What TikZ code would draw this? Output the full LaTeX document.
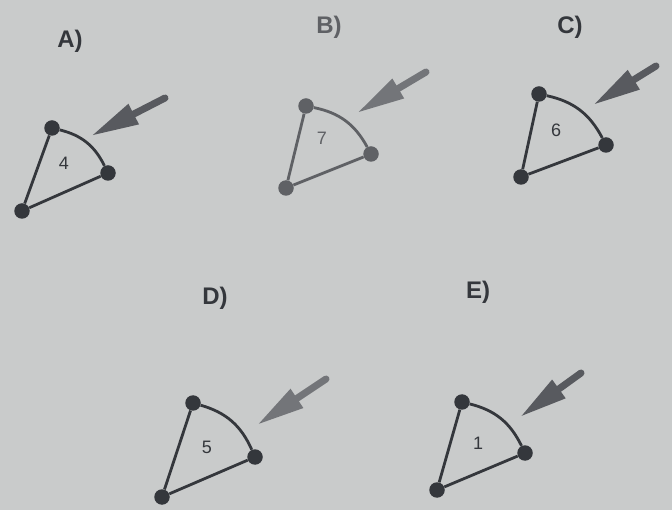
\documentclass[tikz,border=0pt]{standalone}
\usepackage{fontspec}
\setmainfont{Liberation Sans}
\usetikzlibrary{arrows.meta}
\definecolor{paper}{RGB}{201,203,203}
\definecolor{ink}{RGB}{52,55,60}
\definecolor{inklight}{RGB}{95,97,101}
\definecolor{arrowc}{RGB}{88,90,95}
\definecolor{arrowlight}{RGB}{115,117,121}
\begin{document}
\begin{tikzpicture}[x=1pt,y=-1pt,
  dot/.style={circle,fill=#1,inner sep=0pt,minimum size=15.5pt},
  dot/.default=ink,
  edge/.style={draw=#1,line width=2.8pt},
  edge/.default=ink,
  curved/.style={draw=#1,line width=2.8pt,bend left=25},
  curved/.default=ink,
  pointer/.style={draw=#1,line width=7pt,line cap=round,
    -{Triangle[length=48pt,width=21pt,fill=#1]}},
  pointer/.default=arrowc,
  letter/.style={text=#1,font=\fontsize{24}{24}\selectfont\bfseries},
  letter/.default=ink,
  num/.style={text=#1,font=\fontsize{18}{18}\selectfont},
  num/.default=ink]
\fill[paper] (0,0) rectangle (672,510);
\useasboundingbox (0,0) rectangle (672,510);

% A
\node[letter] (aL) at (70,41) {A)};
\node[dot] (aT) at (52,128) {};
\node[dot] (aR) at (108,173) {};
\node[dot] (aB) at (22,211) {};
\node[num] (aN) at (64,163) {4};
\draw[edge] (aT) -- (aB) -- (aR);
\draw[curved] (aT) to (aR);
\coordinate (aS) at (165,98);
\coordinate (aE) at (91,136);
\draw[pointer] (aS) -- (aE);

% B
\node[letter=inklight] (bL) at (329,27) {B)};
\node[dot=inklight] (bT) at (306,106) {};
\node[dot=inklight] (bR) at (371,154) {};
\node[dot=inklight] (bB) at (286,188) {};
\node[num=inklight] (bN) at (322,138) {7};
\draw[edge=inklight] (bT) -- (bB) -- (bR);
\draw[curved=inklight] (bT) to (bR);
\coordinate (bS) at (426,72);
\coordinate (bE) at (357,113);
\draw[pointer=arrowlight] (bS) -- (bE);

% C
\node[letter] (cL) at (570,27) {C)};
\node[dot] (cT) at (539,94) {};
\node[dot] (cR) at (606,145) {};
\node[dot] (cB) at (521,177) {};
\node[num] (cN) at (556,130) {6};
\draw[edge] (cT) -- (cB) -- (cR);
\draw[curved] (cT) to (cR);
\coordinate (cS) at (656,66);
\coordinate (cE) at (593,105);
\draw[pointer] (cS) -- (cE);

% D
\node[letter] (dL) at (215,298) {D)};
\node[dot] (dT) at (193,403) {};
\node[dot] (dR) at (255,457) {};
\node[dot] (dB) at (162,497) {};
\node[num] (dN) at (207,447) {5};
\draw[edge] (dT) -- (dB) -- (dR);
\draw[curved] (dT) to (dR);
\coordinate (dS) at (326,379);
\coordinate (dE) at (257,425);
\draw[pointer=arrowlight] (dS) -- (dE);

% E
\node[letter] (eL) at (478,292) {E)};
\node[dot] (eT) at (462,402) {};
\node[dot] (eR) at (525,453) {};
\node[dot] (eB) at (437,490) {};
\node[num] (eN) at (478,443) {1};
\draw[edge] (eT) -- (eB) -- (eR);
\draw[curved] (eT) to (eR);
\coordinate (eS) at (581,373);
\coordinate (eE) at (520,417);
\draw[pointer] (eS) -- (eE);
\end{tikzpicture}
\end{document}
